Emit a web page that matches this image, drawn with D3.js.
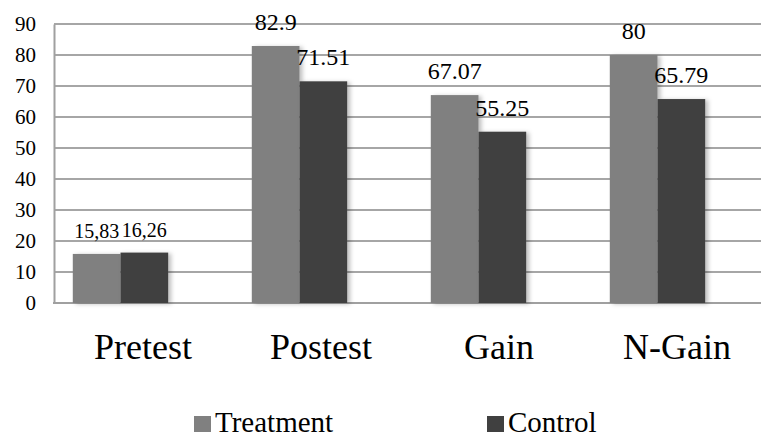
<!DOCTYPE html>
<html>
<head>
<meta charset="utf-8">
<script src="https://cdn.jsdelivr.net/npm/d3@7"></script>
<style>
  html, body { margin: 0; padding: 0; background: #fff; }
  svg text { font-family: "Liberation Serif", Tinos, "Times New Roman", "DejaVu Serif", serif; }
</style>
</head>
<body>
<div id="chart"></div>
<script>
// ---- data ----
const categories = ["Pretest", "Postest", "Gain", "N-Gain"];
const series = ["Treatment", "Control"];
const treatment = [15.83, 82.9, 67.07, 80];
const control = [16.26, 71.51, 55.25, 65.79];
const valueLabels = [
  ["15,83", "82.9", "67.07", "80"],
  ["16,26", "71.51", "55.25", "65.79"]
];
const yTicks = [0, 10, 20, 30, 40, 50, 60, 70, 80, 90];

const colors = { Treatment: "#808080", Control: "#404040" };
const FONT = "Liberation Serif, Tinos, Times New Roman, DejaVu Serif, serif";

(function () {
  const W = 761, H = 438;
  const svg = d3.select("#chart").append("svg")
    .attr("width", W).attr("height", H);

  // soft shadow to the right of the bars
  const defs = svg.append("defs");
  defs.append("filter").attr("id", "shadow")
    .attr("x", "-20%").attr("y", "-10%").attr("width", "150%").attr("height", "130%")
    .append("feDropShadow")
    .attr("dx", 3).attr("dy", 1).attr("stdDeviation", 2)
    .attr("flood-color", "#000").attr("flood-opacity", 0.25);

  const M = { l: 54, r: 761, t: 24, b: 303 };

  const y = d3.scaleLinear().domain([0, 90]).range([M.b, M.t]);
  // category label positions
  const xLab = d3.scaleBand().domain(categories).range([M.l, 766]);
  // bar groups sit a bit left of the labels, as in the original
  const xBar = d3.scaleBand().domain(categories).range([31, 747]);
  const half = 47.7;
  const xs = d3.scaleBand().domain(series)
    .range([xBar.bandwidth() / 2 - half, xBar.bandwidth() / 2 + half]);

  // gridlines
  svg.append("g")
    .selectAll("line")
    .data(yTicks.filter(d => d > 0))
    .join("line")
    .attr("x1", M.l).attr("x2", M.r)
    .attr("y1", d => y(d)).attr("y2", d => y(d))
    .attr("stroke", "#a6a6a6").attr("stroke-width", 2);

  // y axis
  const yAxis = svg.append("g")
    .attr("transform", `translate(${M.l},0)`)
    .call(d3.axisLeft(y).tickValues(yTicks).tickSize(0).tickPadding(18));
  yAxis.attr("font-family", FONT).attr("font-size", 21);
  yAxis.select(".domain").attr("stroke", "#a0a0a0").attr("stroke-width", 2);
  yAxis.selectAll("text")
    .attr("font-family", FONT)
    .attr("fill", "#000");

  // baseline
  svg.append("line")
    .attr("x1", M.l - 1).attr("x2", M.r)
    .attr("y1", y(0)).attr("y2", y(0))
    .attr("stroke", "#a0a0a0").attr("stroke-width", 2);

  const rows = categories.map((c, i) => ({ cat: c, i, vals: [treatment[i], control[i]] }));

  const groups = svg.append("g").selectAll("g")
    .data(rows)
    .join("g")
    .attr("transform", d => `translate(${xBar(d.cat)},0)`);

  groups.selectAll("rect")
    .data(d => series.map((s, k) => ({ s, k, v: d.vals[k], i: d.i })))
    .join("rect")
    .attr("x", d => xs(d.s))
    .attr("width", xs.bandwidth())
    .attr("y", d => y(d.v))
    .attr("height", d => y(0) - y(d.v))
    .attr("fill", d => colors[d.s])
    .attr("filter", "url(#shadow)");

  groups.selectAll("text.val")
    .data(d => series.map((s, k) => ({ s, k, v: d.vals[k], i: d.i })))
    .join("text")
    .attr("class", "val")
    .attr("x", d => xs(d.s) + xs.bandwidth() / 2)
    .attr("y", d => y(d.v) - 16)
    .attr("text-anchor", "middle")
    .attr("font-family", FONT)
    .attr("font-size", d => d.i === 0 ? 20 : 24)
    .attr("fill", "#000")
    .text(d => valueLabels[d.k][d.i]);

  // category labels
  svg.append("g").selectAll("text")
    .data(categories)
    .join("text")
    .attr("x", d => xLab(d) + xLab.bandwidth() / 2)
    .attr("y", 359)
    .attr("text-anchor", "middle")
    .attr("font-family", FONT)
    .attr("font-size", 36)
    .attr("fill", "#000")
    .text(d => d);

  // legend
  const legX = [194, 487];
  const leg = svg.append("g").selectAll("g")
    .data(series)
    .join("g")
    .attr("transform", (d, i) => `translate(${legX[i]},416)`);
  leg.append("rect")
    .attr("width", 17).attr("height", 16)
    .attr("fill", d => colors[d]);
  leg.append("text")
    .attr("x", 21).attr("y", 16)
    .attr("font-family", FONT)
    .attr("font-size", 29)
    .attr("fill", "#000")
    .text(d => d);
})();
</script>
</body>
</html>
